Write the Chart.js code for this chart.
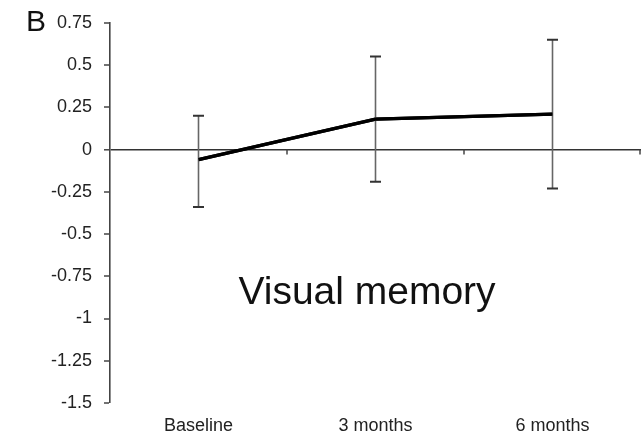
<!DOCTYPE html>
<html>
<head>
<meta charset="utf-8">
<script src="https://cdn.jsdelivr.net/npm/chart.js@4"></script>
<style>
  html, body { margin: 0; padding: 0; background: #fff; }
  #wrap { width: 641px; height: 441px; position: relative; }
</style>
</head>
<body>
<div id="wrap"><canvas id="c" width="641" height="441"></canvas></div>
<script>
const categories = ["Baseline", "3 months", "6 months"];
const meanValues = [-0.06, 0.18, 0.21];
const upperValues = [0.2, 0.55, 0.65];
const lowerValues = [-0.34, -0.19, -0.23];
const yTickValues = [0.75, 0.5, 0.25, 0, -0.25, -0.5, -0.75, -1, -1.25, -1.5];
const panelLabel = "B";
const chartNote = "Visual memory";

const FONT = "'Liberation Sans', Arial, sans-serif";

const extras = {
  id: 'extras',
  afterDatasetsDraw(chart) {
    const ctx = chart.ctx;
    const xs = chart.scales.x, ys = chart.scales.y;
    const y0 = ys.getPixelForValue(0);
    const step = xs.getPixelForValue(1) - xs.getPixelForValue(0);
    ctx.save();
    ctx.strokeStyle = '#444';
    ctx.lineWidth = 1.5;
    for (let i = 0; i < categories.length; i++) {
      const bx = Math.min(xs.getPixelForValue(i) + step / 2, chart.width - 1);
      ctx.beginPath();
      ctx.moveTo(bx, y0);
      ctx.lineTo(bx, y0 + 5);
      ctx.stroke();
    }
    for (let i = 0; i < categories.length; i++) {
      const x = xs.getPixelForValue(i);
      const yt = ys.getPixelForValue(upperValues[i]);
      const yb = ys.getPixelForValue(lowerValues[i]);
      ctx.strokeStyle = '#666';
      ctx.lineWidth = 1.6;
      ctx.beginPath();
      ctx.moveTo(x, yt);
      ctx.lineTo(x, yb);
      ctx.stroke();
      ctx.strokeStyle = '#333';
      ctx.lineWidth = 2;
      ctx.beginPath();
      ctx.moveTo(x - 5.5, yt); ctx.lineTo(x + 5.5, yt);
      ctx.moveTo(x - 5.5, yb); ctx.lineTo(x + 5.5, yb);
      ctx.stroke();
    }
    const meta = chart.getDatasetMeta(0);
    ctx.strokeStyle = '#000';
    ctx.lineWidth = 3.2;
    ctx.lineJoin = 'round';
    ctx.beginPath();
    meta.data.forEach((p, i) => { if (i === 0) ctx.moveTo(p.x, p.y); else ctx.lineTo(p.x, p.y); });
    ctx.stroke();
    ctx.fillStyle = '#111';
    ctx.textBaseline = 'middle';
    ctx.textAlign = 'left';
    ctx.font = "30px " + FONT;
    ctx.fillText(panelLabel, 26, 23);
    ctx.textAlign = 'center';
    ctx.font = "39px " + FONT;
    ctx.fillText(chartNote, 367, 293);
    ctx.restore();
  }
};

new Chart(document.getElementById('c'), {
  type: 'line',
  data: {
    labels: categories,
    datasets: [{
      data: meanValues,
      borderColor: '#000',
      borderWidth: 3.2,
      pointRadius: 0,
      tension: 0,
      fill: false
    }]
  },
  options: {
    responsive: false,
    animation: false,
    events: [],
    layout: { padding: { top: 20, right: 0, bottom: 0, left: 0 } },
    plugins: { legend: { display: false }, tooltip: { enabled: false } },
    scales: {
      x: {
        type: 'category',
        offset: true,
        grid: { display: false, drawTicks: false },
        border: { display: false },
        ticks: { color: '#222', font: { family: FONT, size: 18 }, padding: 12, maxRotation: 0 },
        afterFit(scale) { scale.height = 38; }
      },
      y: {
        min: -1.5,
        max: 0.75,
        afterBuildTicks(scale) { scale.ticks = yTickValues.map(v => ({ value: v })); },
        ticks: {
          color: '#222',
          font: { family: FONT, size: 18 },
          padding: 12,
          callback: (v) => String(v)
        },
        grid: {
          drawOnChartArea: true,
          color: (c) => (c.tick && c.tick.value === 0) ? '#333' : 'rgba(0,0,0,0)',
          lineWidth: (c) => (c.tick && c.tick.value === 0) ? 1.6 : 0,
          tickColor: '#444',
          tickLength: 6,
          tickWidth: 1.5
        },
        border: { display: true, color: '#444', width: 1.6 },
        afterFit(scale) { scale.width = 110; }
      }
    }
  },
  plugins: [extras]
});
</script>
</body>
</html>
